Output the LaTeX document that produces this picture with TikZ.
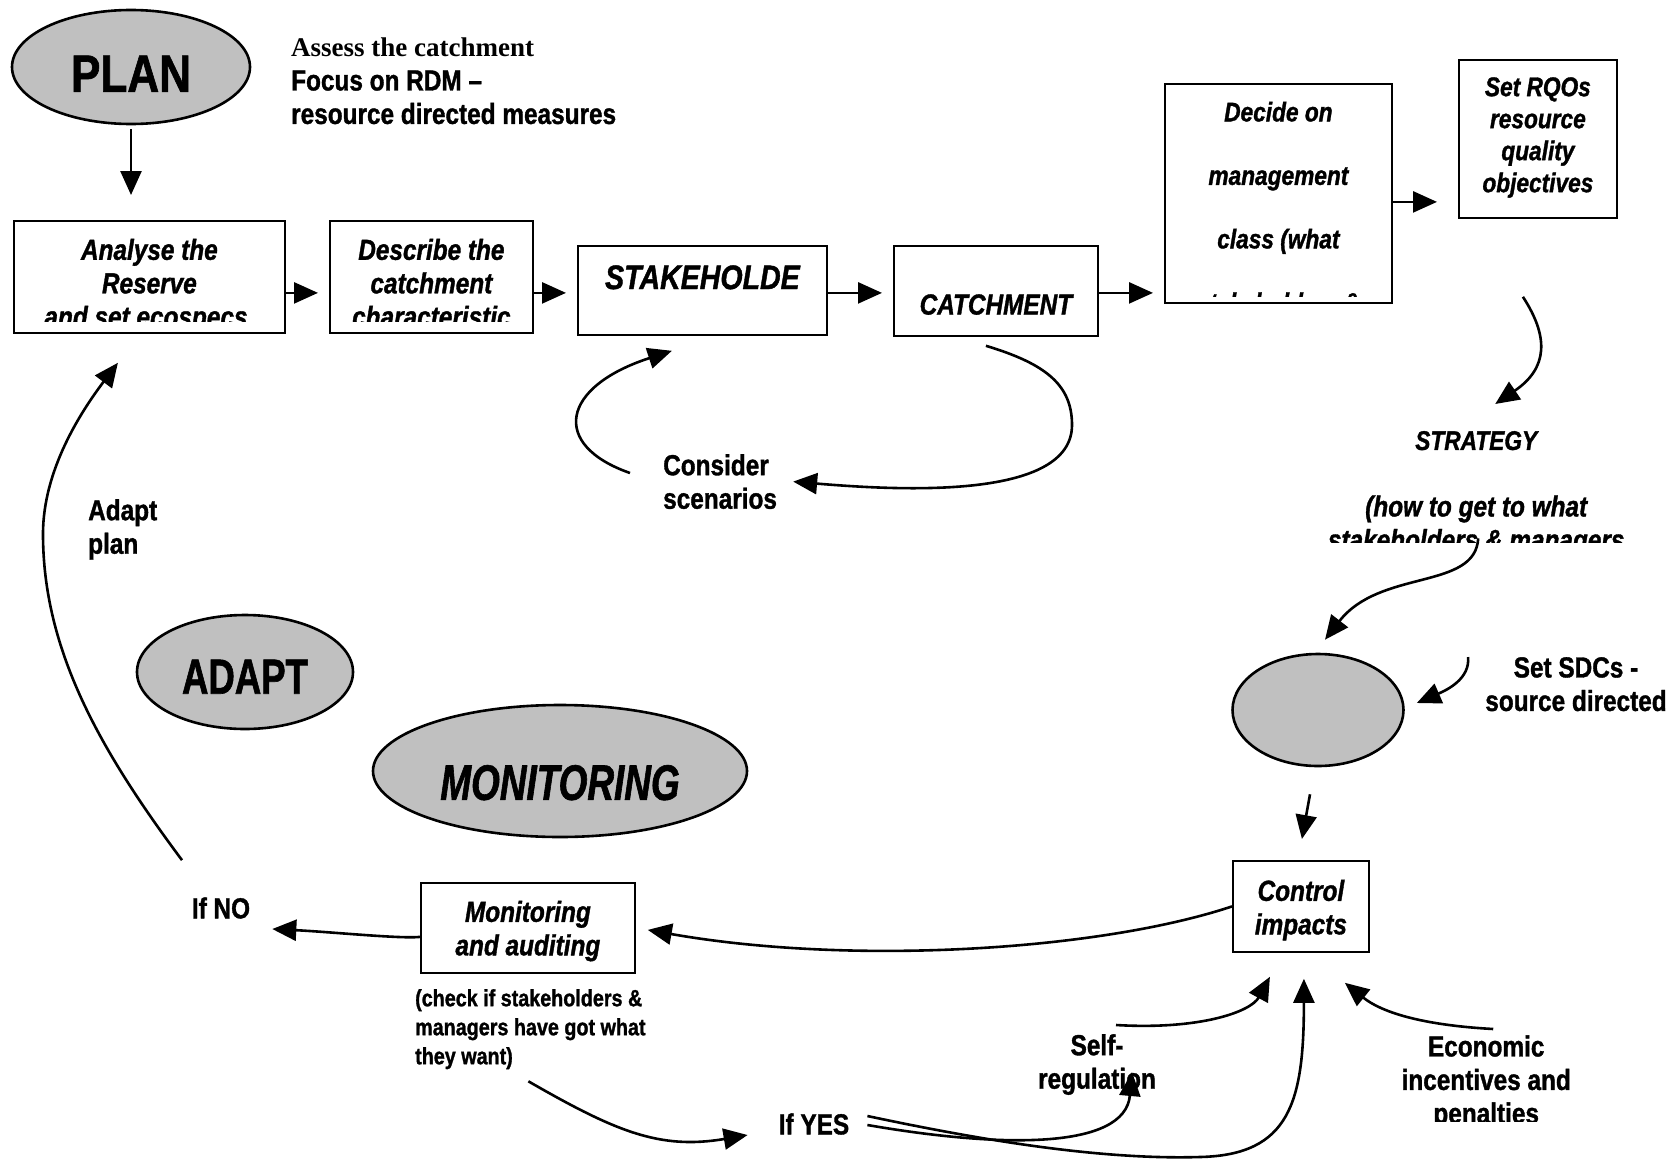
\documentclass[tikz,border=0pt]{standalone}
\usepackage{fontspec}
\setmainfont{Liberation Sans}[FakeStretch=0.84, BoldFeatures={FakeBold=1.2}, BoldItalicFeatures={FakeBold=1.2}]
\newfontfamily\timesfont{Liberation Serif}
\newfontfamily\bigfont{Liberation Sans}[FakeStretch=0.74, BoldFeatures={FakeBold=1.2}, BoldItalicFeatures={FakeBold=1.2}]
\usetikzlibrary{shapes.geometric, arrows.meta}
\definecolor{ovalgray}{HTML}{C0C0C0}

\newcommand{\boxfont}{\fontsize{29}{33.5}\selectfont\bfseries\itshape}
\newcommand{\notefont}{\fontsize{29}{33.5}\selectfont\bfseries}
% text inside a box, cut off at the bottom like the original text frames
\newcommand{\boxtext}[4]{%
  \clip ([yshift=#1]path picture bounding box.south west) rectangle (path picture bounding box.north east);
  \node[draw=none, fill=none, rectangle, minimum size=0pt, inner sep=0pt, anchor=north, align=center, font=#3]
    at ([yshift=-#2]path picture bounding box.north) {#4};}

\tikzset{
  stepbox/.style={draw, line width=1.8pt, inner sep=0pt, anchor=north west},
  textarea/.style={inner sep=0pt, anchor=north west},
  oval/.style={ellipse, draw, fill=ovalgray, line width=2.6pt, inner sep=0pt, text depth=0pt},
  note/.style={inner sep=0pt, font=\notefont},
  arrow/.style={line width=2.6pt, -{Triangle[length=24pt,width=21pt]}},
}

\begin{document}
\begin{tikzpicture}[x=1pt, y=-1pt]
  \useasboundingbox (0,0) rectangle (1675,1159);

  % ovals
  \node[oval, minimum width=238, minimum height=114, text height=49.6pt,
        font=\fontsize{52.5}{60}\selectfont\bfseries] (plan) at (131,67) {PLAN};
  \node[oval, minimum width=216, minimum height=114, text height=43.4pt,
        font=\bigfont\fontsize{49.4}{56}\selectfont\bfseries] (adapt) at (245,672) {ADAPT};
  \node[oval, minimum width=374, minimum height=132, text height=57.7pt,
        font=\bigfont\fontsize{49.9}{56}\selectfont\bfseries\itshape] (monitoring) at (560,771) {MONITORING};
  \node[oval, minimum width=171, minimum height=112] (sdcoval) at (1318,710) {};

  % boxes
  \node[stepbox, minimum width=271, minimum height=112,
        path picture={\boxtext{11pt}{17pt}{\boxfont}{Analyse the\\Reserve\\and set ecospecs.}}] (analyse) at (13,220) {};
  \node[stepbox, minimum width=203, minimum height=112,
        path picture={\boxtext{11pt}{17pt}{\boxfont}{Describe the\\catchment\\characteristic}}] (describe) at (329,220) {};
  \node[stepbox, minimum width=249, minimum height=89,
        path picture={\boxtext{0pt}{18.5pt}{\fontsize{34}{38}\selectfont\bfseries\itshape}{STAKEHOLDE}}] (stake) at (577,245) {};
  \node[stepbox, minimum width=204, minimum height=90,
        path picture={\boxtext{0pt}{47.5pt}{\boxfont}{CATCHMENT}}] (catch) at (893,245) {};
  \node[stepbox, minimum width=227, minimum height=219,
        path picture={\boxtext{6pt}{17pt}{\fontsize{27}{63.5}\selectfont\bfseries\itshape}{Decide on\\management\\class (what\\stakeholders \&}}] (decide) at (1164,83) {};
  \node[stepbox, minimum width=158, minimum height=158,
        path picture={\boxtext{0pt}{16.5pt}{\fontsize{27}{32}\selectfont\bfseries\itshape}{Set RQOs\\resource\\quality\\objectives}}] (rqo) at (1458,59) {};
  \node[stepbox, minimum width=136, minimum height=91,
        path picture={\boxtext{0pt}{18pt}{\boxfont}{Control\\impacts}}] (control) at (1232,860) {};
  \node[stepbox, minimum width=214, minimum height=90,
        path picture={\boxtext{0pt}{17pt}{\boxfont}{Monitoring\\and auditing}}] (monitor) at (420,882) {};

  % text frames without border
  \node[textarea, minimum width=320, minimum height=127,
        path picture={\boxtext{0pt}{15.7pt}{\boxfont}{{\fontsize{27}{33}\selectfont STRATEGY}\\[33pt](how to get to what\\stakeholders \& managers}}] (strategy) at (1316,415) {};
  \node[textarea, minimum width=220, minimum height=99,
        path picture={\boxtext{3pt}{10pt}{\notefont}{Economic\\incentives and\\penalties}}] (economic) at (1376,1025) {};

  % notes
  \node[note, anchor=north west, align=left] (assess) at (291,38)
    {{\timesfont\fontsize{27}{33.5}\selectfont Assess the catchment}\\Focus on RDM --\\resource directed measures};
  \node[note, anchor=north west, align=left] (consider) at (663,454) {Consider\\scenarios};
  \node[note, anchor=north west, align=left] (adaptplan) at (88,499) {Adapt\\plan};
  \node[note] (ifno) at (221,908) {If NO};
  \node[note, anchor=north west, align=left, font=\fontsize{23.5}{29}\selectfont\bfseries] (check) at (415,989)
    {(check if stakeholders \&\\managers have got what\\they want)};
  \node[note] (ifyes) at (814,1124) {If YES};
  \node[note, anchor=north, align=center] (selfreg) at (1097,1034) {Self-\\regulation};
  \node[note, anchor=north, align=center] (setsdc) at (1576,657) {Set SDCs -\\source directed};

  % bends of the long connectors
  \coordinate (abend) at (43,534);
  \coordinate (cbend) at (1072,425);
  \coordinate (ybend) at (1200,1157);

  % top chain
  \draw[arrow] ([yshift=-4pt]plan.south) -- ([yshift=25pt]plan.south |- analyse.north);
  \draw[arrow] ([yshift=-16pt]analyse.east) -- ([xshift=-11pt,yshift=-16pt]describe.west);
  \draw[arrow] ([yshift=-16pt]describe.east) -- ([xshift=-11pt,yshift=-2.5pt]stake.west);
  \draw[arrow] ([yshift=-2.5pt]stake.east) -- ([xshift=-11pt,yshift=-2pt]catch.west);
  \draw[arrow] ([yshift=-2pt]catch.east) -- ([xshift=-11pt,yshift=-2pt]catch.east -| decide.west);
  \draw[arrow] ([yshift=-8.5pt]decide.east) -- ([xshift=-21pt,yshift=-8.5pt]decide.east -| rqo.west);

  % scenario loop
  \draw[arrow] ([xshift=-10pt,yshift=-9pt]catch.south) .. controls +(60,18) and +(0,-40) .. (cbend)
    .. controls +(0,75) and +(107,9) .. ([xshift=16pt]consider.east);
  \draw[arrow] ([xshift=-33pt,yshift=-19pt]consider.north west) .. controls +(-80,-28) and +(-111,36) .. ([xshift=-30.5pt,yshift=-15pt]stake.south);

  % right side
  \draw[arrow] ([xshift=-15pt,yshift=-78pt]rqo.south) .. controls +(26,40) and +(53,-36) .. ([xshift=19pt,yshift=11pt]strategy.north);
  \draw[arrow] ([xshift=2pt,yshift=4pt]strategy.south) .. controls +(-3,52) and +(55,-71) .. ([xshift=7pt,yshift=13pt]sdcoval.north);
  \draw[arrow] ([xshift=-17pt]setsdc.north west) .. controls +(2,22) and +(30,-13) .. ([xshift=12pt,yshift=7pt]sdcoval.east);
  \draw[arrow] ([xshift=-8pt,yshift=-27pt]sdcoval.south) -- ([xshift=1pt,yshift=21pt]control.north);

  % bottom loop
  \draw[arrow] (control.west) .. controls +(-132,44) and +(204,36) .. ([xshift=12pt,yshift=-2pt]monitor.east);
  \draw[arrow] ([yshift=-9pt]monitor.west) .. controls +(-20,2) and +(60,3) .. ([xshift=22pt,yshift=-21pt]ifno.east);
  \draw[arrow] ([xshift=-39pt,yshift=37pt]ifno.north) .. controls +(-82,-110) and +(0,116) .. (abend)
    .. controls +(0,-64) and +(-37,49) .. ([xshift=-31.5pt,yshift=-29pt]analyse.south);
  \draw[arrow] ([xshift=-2pt,yshift=-12pt]check.south) .. controls +(87,50) and +(-88,15) .. ([xshift=-31pt,yshift=-11pt]ifyes.west);
  \draw[arrow] ([xshift=18pt,yshift=-1pt]ifyes.east) .. controls +(133,23) and +(-7,78) .. ([xshift=35pt,yshift=-38pt]selfreg.north);
  \draw[arrow] ([xshift=18pt,yshift=8pt]ifyes.east) .. controls +(113,24) and +(-100,3) .. (ybend)
    .. controls +(90,-2) and +(0,123) .. ([xshift=3pt,yshift=-26pt]control.south);
  \draw[arrow] ([xshift=19pt,yshift=9pt]selfreg.north) .. controls +(84,5) and +(-19,35) .. ([xshift=-31pt,yshift=-24pt]control.south);
  \draw[arrow] ([xshift=7pt,yshift=-4pt]economic.north) .. controls +(-73,-4) and +(36,29) .. ([xshift=44pt,yshift=-30pt]control.south);
\end{tikzpicture}
\end{document}
